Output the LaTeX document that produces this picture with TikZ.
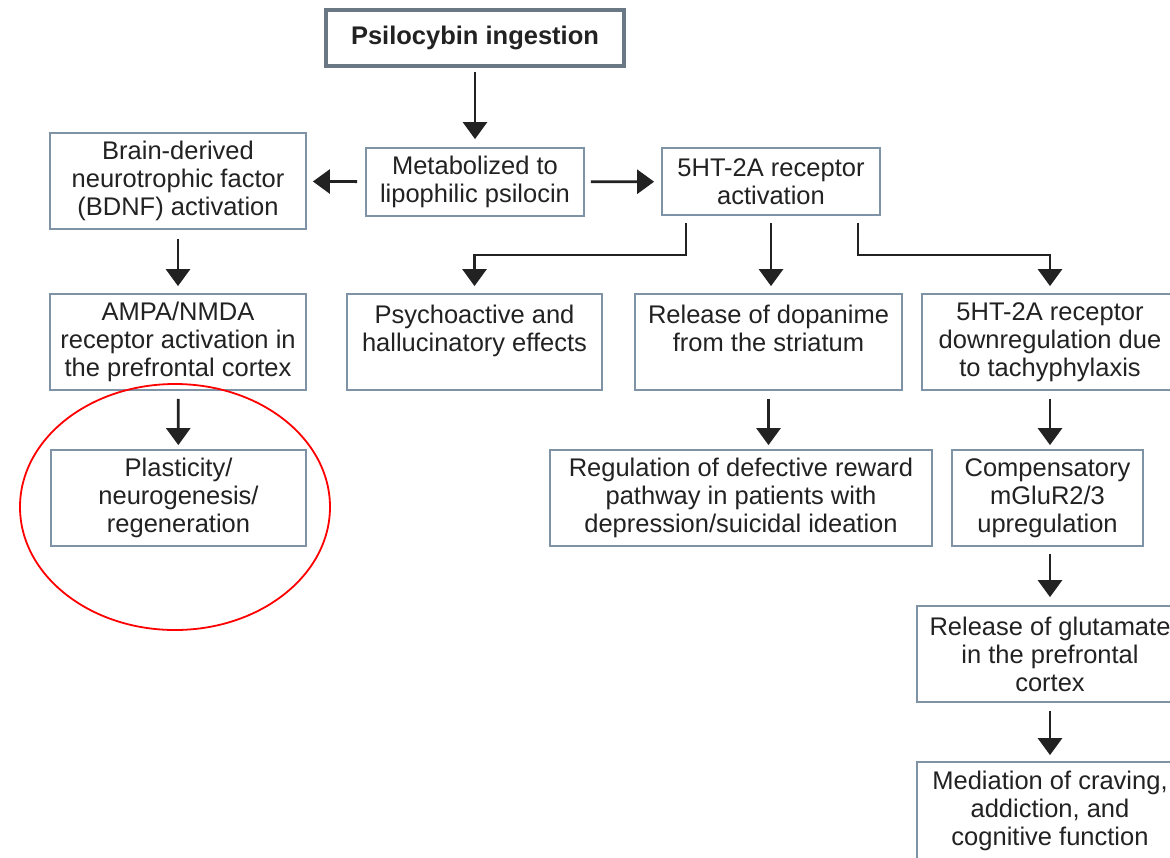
\documentclass[tikz,border=0pt]{standalone}
\usepackage{fontspec}
\setmainfont{Liberation Sans}
\usetikzlibrary{arrows.meta,calc}
\definecolor{boxline}{HTML}{7F93A6}
\definecolor{topline}{HTML}{6A7886}
\definecolor{ink}{HTML}{222222}
\tikzset{
  box/.style={draw=boxline, line width=1.8pt, fill=white, align=center, inner sep=0pt,
    font=\fontsize{25.5}{28}\selectfont, text=ink},
  topbox/.style={box, draw=topline, line width=3.5pt, font=\fontsize{25.5}{28}\selectfont\bfseries},
  arr/.style={draw=ink, line width=2.8pt, -{Triangle[width=24pt,length=17pt]}},
}
\begin{document}
\begin{tikzpicture}[x=1pt,y=-1pt]
\useasboundingbox (0,0) rectangle (1170,857);
\clip (0,0) rectangle (1170,857);
\fill[white] (0,0) rectangle (1170,857);

\node[topbox, minimum width=298pt, minimum height=56pt] (ing) at (475,38) {Psilocybin ingestion};
\node[box, minimum width=218pt, minimum height=68pt] (met) at (475,182) {Metabolized to\\lipophilic psilocin};
\node[box, minimum width=256pt, minimum height=96pt] (bdnf) at (178,181) {Brain-derived\\neurotrophic factor\\(BDNF) activation};
\node[box, minimum width=218pt, minimum height=67pt] (act) at (771,181.5) {5HT-2A receptor\\activation};
\node[box, minimum width=256pt, minimum height=96pt] (ampa) at (178,342) {AMPA/NMDA\\receptor activation in\\the prefrontal cortex};
\node[box, minimum width=255pt, minimum height=96pt] (plas) at (178.5,498) {Plasticity/\\neurogenesis/\\regeneration};
\node[box, minimum width=255pt, minimum height=96pt] (psy) at (474.5,342) {Psychoactive and\\hallucinatory effects\\\mbox{}};
\node[box, minimum width=267pt, minimum height=96pt] (dop) at (768.5,342) {Release of dopanime\\from the striatum\\\mbox{}};
\node[box, minimum width=256pt, minimum height=96pt] (down) at (1050,342) {5HT-2A receptor\\downregulation due\\to tachyphylaxis};
\node[box, minimum width=382pt, minimum height=96pt] (reg) at (741,498) {Regulation of defective reward\\pathway in patients with\\depression/suicidal ideation};
\node[box, minimum width=191pt, minimum height=96pt] (comp) at (1047.5,498) {Compensatory\\mGluR2/3\\upregulation};
\node[box, minimum width=266pt, minimum height=96pt] (glu) at (1050,654) {Release of glutamate\\in the prefrontal\\cortex};
\node[box, minimum width=266pt, minimum height=98pt] (med) at (1050,811) {Mediation of craving,\\addiction, and\\cognitive function};

\draw[red, line width=1.8pt] (175,507) ellipse [x radius=155pt, y radius=123pt];

\draw[arr, shorten <=4pt, shorten >=8pt] (ing) -- (met);
\draw[arr, shorten <=8pt, shorten >=6pt] (met) -- (bdnf);
\draw[arr, shorten <=6pt, shorten >=7pt] (met) -- (act);
\draw[arr, shorten <=9pt, shorten >=7pt] (bdnf) -- (ampa);
\draw[arr, shorten <=8pt, shorten >=4pt] (ampa) -- (plas);
\draw[arr, shorten >=7pt] ($(act.south)+(-85,7)$) -- ++(0,32) -| (psy.north);
\draw[arr, shorten <=7pt, shorten >=7pt] (act.south) -- (act.south |- dop.north);
\draw[arr, shorten >=7pt] ($(act.south)+(87,7)$) -- ++(0,32) -| (down.north);
\draw[arr, shorten <=8pt, shorten >=4pt] (dop.south) -- (dop.south |- reg.north);
\draw[arr, shorten <=8pt, shorten >=4pt] (down.south) -- (down.south |- comp.north);
\draw[arr, shorten <=7pt, shorten >=8pt] (comp.south -| down.south) -- (glu.north);
\draw[arr, shorten <=8pt, shorten >=6pt] (glu) -- (med);
\end{tikzpicture}
\end{document}
